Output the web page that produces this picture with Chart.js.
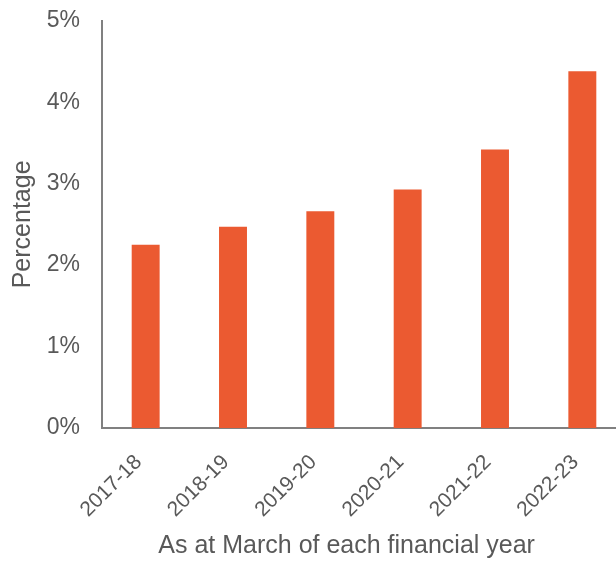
<!DOCTYPE html>
<html>
<head>
<meta charset="utf-8">
<script src="https://cdn.jsdelivr.net/npm/chart.js@4.4.0/dist/chart.umd.min.js"></script>
<style>
  html, body { margin: 0; padding: 0; background: #fff; overflow: hidden; }
  #wrap { width: 630px; height: 562px; overflow: hidden; }
  #ratioChart { display: block; margin-top: -7px; }
</style>
</head>
<body>
<div id="wrap"><canvas id="ratioChart" width="630" height="569"></canvas></div>
<script>
const years = ["2017-18", "2018-19", "2019-20", "2020-21", "2021-22", "2022-23"];
const percentValues = [2.25, 2.47, 2.66, 2.93, 3.42, 4.38];
const yTicks = [0, 1, 2, 3, 4, 5];

const textColor = "#595959";
const axisColor = "#808080";
const fontFamily = "Liberation Sans, Arial, sans-serif";

const ctx = document.getElementById("ratioChart");

new Chart(ctx, {
    type: "bar",
    data: {
        labels: years,
        datasets: [
            {
                label: "Percentage",
                data: percentValues,
                backgroundColor: "#EB5A31",
                barPercentage: 0.32,
                categoryPercentage: 1
            }
        ]
    },

    options: {
        responsive: false,
        animation: false,
        layout: {
            padding: { top: 6, right: 4, left: 0, bottom: 0 }
        },
        plugins: {
            legend: { display: false },
            tooltip: { enabled: false }
        },

        scales: {
            x: {
                grid: { display: false },
                border: { display: true, color: axisColor, width: 2 },
                ticks: {
                    color: textColor,
                    font: { family: fontFamily, size: 21 },
                    minRotation: 45,
                    maxRotation: 45,
                    padding: 14,
                    labelOffset: -7
                },
                title: {
                    display: true,
                    // trailing spaces nudge the centred title left like the original
                    text: "As at March of each financial year\u00A0\u00A0\u00A0\u00A0\u00A0",
                    color: textColor,
                    font: { family: fontFamily, size: 25 },
                    padding: { top: 0, bottom: 1 }
                },
                afterFit: function (scale) {
                    scale.height = 134;
                }
            },
            y: {
                min: 0,
                max: 5,
                grid: { display: false },
                border: { display: true, color: axisColor, width: 2 },
                afterBuildTicks: function (scale) {
                    scale.ticks = yTicks.map(v => ({ value: v }));
                },
                ticks: {
                    color: textColor,
                    font: { family: fontFamily, size: 23 },
                    padding: 14,
                    callback: v => v + "%"
                },
                title: {
                    display: true,
                    text: "Percentage",
                    color: textColor,
                    font: { family: fontFamily, size: 25 },
                    padding: { top: 8, bottom: 0 }
                },
                afterFit: function (scale) {
                    scale.width = 102;
                }
            }
        }
    }
});
</script>
</body>
</html>
